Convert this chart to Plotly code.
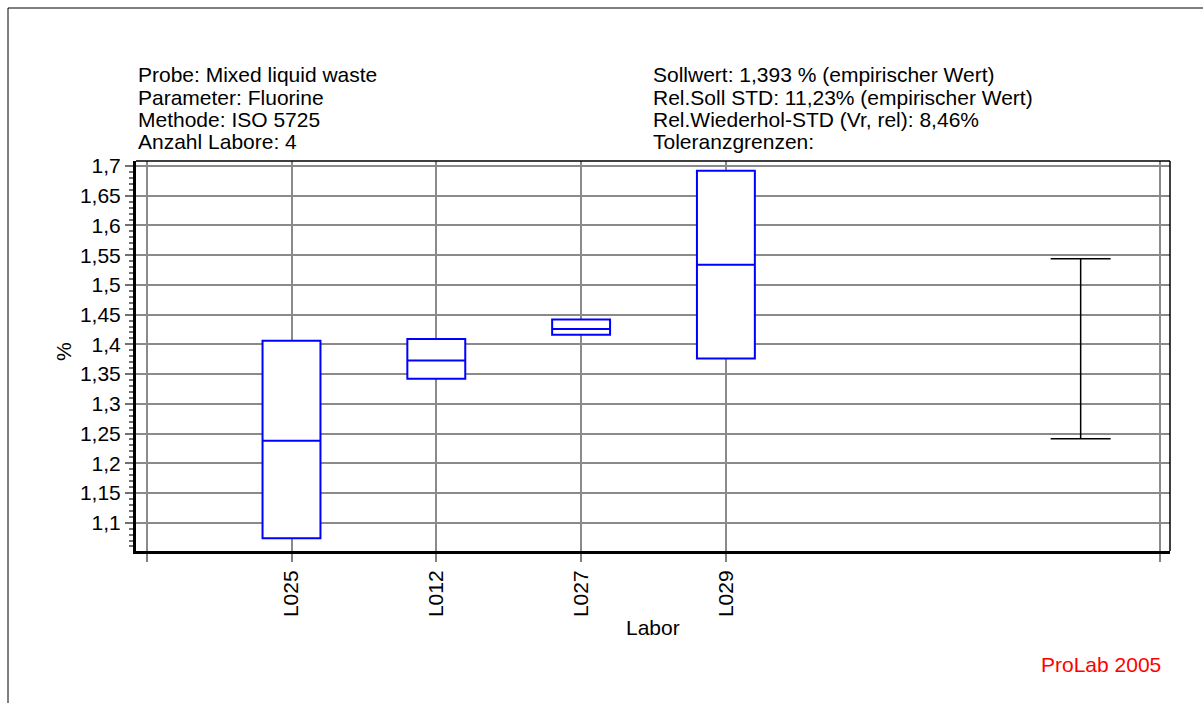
import plotly.graph_objects as go

# ---- data -------------------------------------------------------------
labs = ["L025", "L012", "L027", "L029"]
lab_pos = [1, 2, 3, 4]
q1_vals = [1.074, 1.342, 1.416, 1.376]
median_vals = [1.238, 1.373, 1.426, 1.534]
q3_vals = [1.406, 1.409, 1.442, 1.692]

tol_pos = [6.45]
tol_lower = [1.241]
tol_upper = [1.544]

y_tick_vals = [1.1, 1.15, 1.2, 1.25, 1.3, 1.35, 1.4, 1.45, 1.5, 1.55, 1.6, 1.65, 1.7]
y_tick_text = ["1,1", "1,15", "1,2", "1,25", "1,3", "1,35", "1,4", "1,45", "1,5",
               "1,55", "1,6", "1,65", "1,7"]
x_tick_vals = [0] + lab_pos + [7]
x_tick_text = [""] + labs + [""]

header_left = ["Probe: Mixed liquid waste", "Parameter: Fluorine",
               "Methode: ISO 5725", "Anzahl Labore: 4"]
header_right = ["Sollwert: 1,393 % (empirischer Wert)",
                "Rel.Soll STD: 11,23% (empirischer Wert)",
                "Rel.Wiederhol-STD (Vr, rel): 8,46%",
                "Toleranzgrenzen:"]

# ---- layout geometry (pixels) ----------------------------------------
W, H = 1203, 703
ML, MR, MT, MB = 136, 33, 161, 152
PW, PH = W - ML - MR, H - MT - MB
FONT = "Liberation Sans, Arial, sans-serif"
FS = 21


def px(x):
    return (x - ML) / PW


def py(y):
    return (MT + PH - y) / PH


fig = go.Figure()

fig.add_trace(go.Box(
    x=lab_pos, q1=q1_vals, median=median_vals, q3=q3_vals,
    lowerfence=q1_vals, upperfence=q3_vals,
    width=0.4, whiskerwidth=0,
    fillcolor="white", line=dict(color="#0000FF", width=2),
    boxpoints=False, showlegend=False, hoverinfo="skip",
))

tol_mid = [(a + b) / 2 for a, b in zip(tol_lower, tol_upper)]
fig.add_trace(go.Scatter(
    x=tol_pos, y=tol_mid, mode="markers",
    marker=dict(size=1, color="rgba(0,0,0,0)"),
    error_y=dict(type="data", symmetric=False,
                 array=[u - m for u, m in zip(tol_upper, tol_mid)],
                 arrayminus=[m - l for m, l in zip(tol_mid, tol_lower)],
                 color="black", thickness=1.5, width=30),
    showlegend=False, hoverinfo="skip",
))

annotations = []
for i, (tl, tr) in enumerate(zip(header_left, header_right)):
    yy = 75 + i * 22.2
    annotations.append(dict(text=tl, x=px(135.5), y=py(yy), xref="paper", yref="paper",
                            xanchor="left", yanchor="middle", showarrow=False,
                            font=dict(family=FONT, size=FS, color="black")))
    annotations.append(dict(text=tr, x=px(651), y=py(yy), xref="paper", yref="paper",
                            xanchor="left", yanchor="middle", showarrow=False,
                            font=dict(family=FONT, size=FS, color="black")))
annotations.append(dict(text="%", x=px(63), y=py(352), xref="paper", yref="paper",
                        xanchor="center", yanchor="middle", showarrow=False, textangle=-90,
                        font=dict(family=FONT, size=FS, color="black")))
annotations.append(dict(text="Labor", x=px(653), y=py(627), xref="paper", yref="paper",
                        xanchor="center", yanchor="middle", showarrow=False,
                        font=dict(family=FONT, size=FS, color="black")))
annotations.append(dict(text="ProLab 2005", x=px(1163), y=py(664), xref="paper", yref="paper",
                        xanchor="right", yanchor="middle", showarrow=False,
                        font=dict(family=FONT, size=FS, color="#FF0000")))

shapes = [
    # outer page frame
    dict(type="line", xref="paper", yref="paper", x0=px(8), x1=px(1210), y0=py(8), y1=py(8),
         line=dict(color="black", width=1)),
    dict(type="line", xref="paper", yref="paper", x0=px(8), x1=px(8), y0=py(8), y1=py(710),
         line=dict(color="black", width=1)),
    # thin top and right plot borders
    dict(type="line", xref="paper", yref="paper", x0=0, x1=1, y0=1, y1=1,
         line=dict(color="black", width=1.5)),
    dict(type="line", xref="paper", yref="paper", x0=1, x1=1, y0=0, y1=1,
         line=dict(color="black", width=1.5)),
]

fig.update_layout(
    width=W, height=H,
    margin=dict(l=ML, r=MR, t=MT, b=MB, pad=0),
    paper_bgcolor="white", plot_bgcolor="white",
    font=dict(family=FONT, size=FS, color="black"),
    showlegend=False,
    annotations=annotations, shapes=shapes,
)

fig.update_xaxes(
    range=[(136 - 146.7) / 144.8, (1170 - 146.7) / 144.8],
    tickmode="array", tickvals=x_tick_vals, ticktext=x_tick_text,
    tickangle=-90, ticks="outside", ticklen=8, tickwidth=1.5, tickcolor="#808080",
    showgrid=True, gridcolor="#8a8a8a", gridwidth=1.5,
    showline=True, linecolor="black", linewidth=3, mirror=False,
    zeroline=False, tickfont=dict(family=FONT, size=FS, color="black"),
)
fig.update_yaxes(
    range=[1.0524, 1.7084],
    tickmode="array", tickvals=y_tick_vals, ticktext=y_tick_text,
    ticks="outside", ticklen=8, tickwidth=1.5, tickcolor="#707070",
    minor=dict(ticks="outside", ticklen=4, tickwidth=1.5, tickcolor="#707070",
               dtick=0.01, tick0=1.0, showgrid=False),
    showgrid=True, gridcolor="#8a8a8a", gridwidth=1.5,
    showline=True, linecolor="black", linewidth=3, mirror=False,
    zeroline=False, tickfont=dict(family=FONT, size=FS, color="black"),
)

fig.write_html("out.html")
